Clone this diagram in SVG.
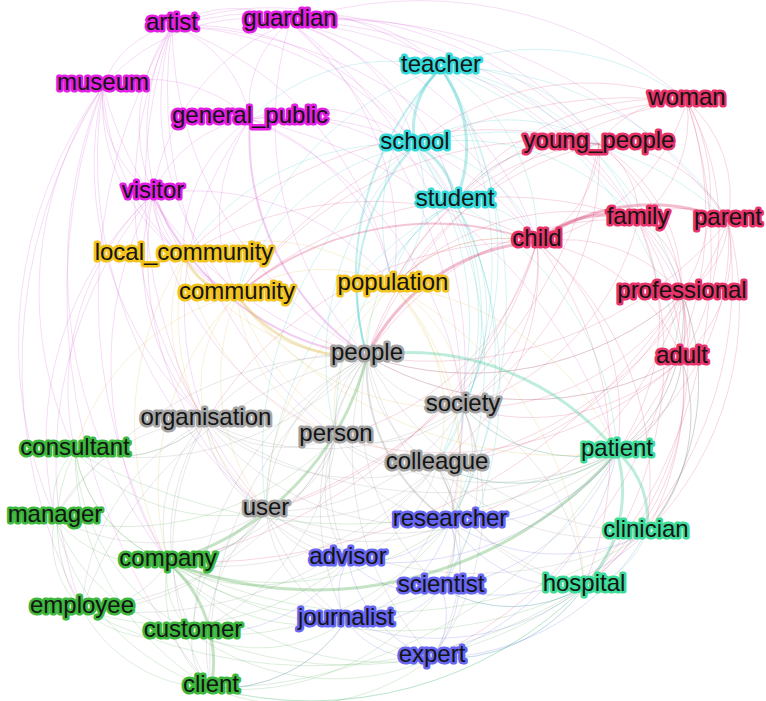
<svg xmlns="http://www.w3.org/2000/svg" width="766" height="701" viewBox="0 0 766 701">
<style>
  #connectors path { fill: none; stroke-width: 0.9; stroke-opacity: 0.22; }
  #connectors path.w { stroke-width: 3; stroke-opacity: 0.32; }
  #connectors path.w2 { stroke-width: 2; stroke-opacity: 0.28; }
  .m { stroke: #d24ad2; } .c { stroke: #2ec4c4; } .r { stroke: #d8366a; } .y { stroke: #d9b43a; }
  .g { stroke: #8c8c8c; } .gr { stroke: #4aa84a; } .b { stroke: #5a5ae0; } .t { stroke: #35c98f; }
  .node text { font-family: "Liberation Sans", Arial, Helvetica, sans-serif; font-size: 24px; fill: #141414;
               stroke-width: 5; stroke-linejoin: round; paint-order: stroke; text-anchor: middle; }
  .nm text { stroke: #e31fe3; } .nc text { stroke: #34dada; } .nr text { stroke: #e8336a; }
  .ny text { stroke: #f2c31b; } .ng text { stroke: #a4a4a4; } .ngr text { stroke: #3cb83c; }
  .nb text { stroke: #6666f2; } .nt text { stroke: #3ddc98; }
</style>
<rect width="766" height="701" fill="#ffffff"/>
<g id="connectors">
 <g class="m">
  <path d="M172 26A120 120 0 0 1 290 22"/><path d="M172 26A92 92 0 0 0 103 86"/><path d="M172 26A121 121 0 0 1 250 119"/>
  <path d="M172 26A170 170 0 0 0 153 194"/><path d="M172 26A230 230 0 0 0 184 256"/><path d="M172 26A277 277 0 0 0 237 295"/>
  <path d="M172 26A383 383 0 0 0 367 356"/><path d="M172 26A396 396 0 0 0 206 421"/><path d="M172 26A333 333 0 0 1 455 202"/>
  <path d="M172 26A272 272 0 0 1 441 68"/><path d="M172 26A270 270 0 0 1 415 145"/><path d="M172 26A424 424 0 0 1 537 242"/>
  <path d="M172 26A443 443 0 0 1 599 144"/><path d="M172 26A341 341 0 0 1 393 286"/><path d="M172 26A494 494 0 0 0 266 511"/>
  <path d="M172 26A536 536 0 0 0 168 562"/><path d="M172 26A442 442 0 0 0 336 437"/>
  <path d="M290 22A105 105 0 0 0 250 119"/><path d="M290 22A158 158 0 0 1 441 68"/><path d="M290 22A175 175 0 0 1 415 145"/>
  <path d="M290 22A244 244 0 0 1 455 202"/><path d="M290 22A330 330 0 0 1 537 242"/><path d="M290 22A332 332 0 0 1 599 144"/>
  <path d="M290 22A405 405 0 0 1 687 101"/><path d="M290 22A481 481 0 0 1 728 221"/><path d="M290 22A400 400 0 0 1 638 220"/>
  <path d="M290 22A343 343 0 0 0 367 356"/><path d="M290 22A283 283 0 0 1 393 286"/><path d="M290 22A422 422 0 0 1 463 407"/>
  <path d="M290 22A220 220 0 0 0 153 194"/><path d="M290 22A198 198 0 0 0 103 86"/><path d="M290 22A525 525 0 0 1 450 522"/>
  <path d="M290 22A477 477 0 0 1 682 294"/>
  <path d="M103 86A151 151 0 0 1 250 119"/><path d="M103 86A119 119 0 0 0 153 194"/><path d="M103 86A188 188 0 0 0 184 256"/>
  <path d="M103 86A248 248 0 0 0 237 295"/><path d="M103 86A378 378 0 0 0 367 356"/><path d="M103 86A350 350 0 0 0 206 421"/>
  <path d="M103 86A366 366 0 0 0 75 451"/><path d="M103 86A435 435 0 0 0 55 518"/><path d="M103 86A455 455 0 0 0 266 511"/>
  <path d="M103 86A480 480 0 0 0 168 562"/><path d="M103 86A523 523 0 0 0 82 609"/><path d="M103 86A612 612 0 0 0 211 688"/>
  <path d="M250 119A123 123 0 0 0 153 194"/><path d="M250 119A152 152 0 0 0 184 256"/><path d="M250 119A176 176 0 0 0 237 295"/>
  <path class="w2" d="M250 119A264 264 0 0 0 367 356"/><path d="M250 119A220 220 0 0 1 393 286"/><path d="M250 119A167 167 0 0 1 415 145"/>
  <path d="M250 119A312 312 0 0 1 537 242"/><path d="M250 119A358 358 0 0 1 463 407"/><path d="M250 119A495 495 0 0 1 617 452"/>
  <path d="M250 119A221 221 0 0 1 455 202"/><path d="M250 119A305 305 0 0 0 206 421"/>
  <path d="M153 194A70 70 0 0 0 184 256"/><path d="M153 194A131 131 0 0 0 237 295"/><path class="w2" d="M153 194A268 268 0 0 0 367 356"/>
  <path d="M153 194A233 233 0 0 0 206 421"/><path d="M153 194A304 304 0 0 0 336 437"/><path d="M153 194A336 336 0 0 0 266 511"/>
  <path d="M153 194A268 268 0 0 0 75 451"/><path d="M153 194A338 338 0 0 0 55 518"/><path d="M153 194A421 421 0 0 0 82 609"/>
  <path d="M153 194A368 368 0 0 0 168 562"/><path d="M153 194A257 257 0 0 1 393 286"/>
 </g>
 <g class="c">
  <path class="w" d="M441 68A81 81 0 0 0 415 145"/><path class="w" d="M441 68A135 135 0 0 1 455 202"/><path d="M441 68A199 199 0 0 1 537 242"/>
  <path d="M441 68A175 175 0 0 1 599 144"/><path class="w2" d="M441 68A297 297 0 0 0 367 356"/><path d="M441 68A223 223 0 0 0 393 286"/>
  <path d="M441 68A325 325 0 0 1 728 221"/><path d="M441 68A249 249 0 0 1 638 220"/><path d="M441 68A248 248 0 0 1 687 101"/>
  <path d="M441 68A330 330 0 0 1 682 294"/><path d="M441 68A397 397 0 0 1 437 465"/><path d="M441 68A454 454 0 0 1 450 522"/>
  <path d="M441 68A198 198 0 0 0 250 119"/><path d="M441 68A340 340 0 0 1 463 407"/><path d="M441 68A305 305 0 0 0 237 295"/>
  <path d="M441 68A378 378 0 0 1 682 359"/>
  <path class="w" d="M415 145A70 70 0 0 1 455 202"/><path d="M415 145A156 156 0 0 1 537 242"/><path class="w2" d="M415 145A216 216 0 0 0 367 356"/>
  <path d="M415 145A143 143 0 0 1 393 286"/><path d="M415 145A233 233 0 0 0 237 295"/><path d="M415 145A256 256 0 0 0 184 256"/>
  <path d="M415 145A184 184 0 0 1 599 144"/><path d="M415 145A235 235 0 0 1 638 220"/><path d="M415 145A322 322 0 0 1 728 221"/>
  <path d="M415 145A302 302 0 0 0 336 437"/><path d="M415 145A395 395 0 0 0 266 511"/><path d="M415 145A321 321 0 0 1 437 465"/>
  <path d="M415 145A266 266 0 0 1 463 407"/><path d="M415 145A379 379 0 0 1 450 522"/>
  <path d="M455 202A91 91 0 0 1 537 242"/><path d="M455 202A177 177 0 0 0 367 356"/><path d="M455 202A104 104 0 0 0 393 286"/>
  <path d="M455 202A155 155 0 0 1 599 144"/><path d="M455 202A320 320 0 0 1 450 522"/><path d="M455 202A264 264 0 0 1 437 465"/>
  <path d="M455 202A205 205 0 0 1 463 407"/><path d="M455 202A263 263 0 0 0 336 437"/><path d="M455 202A386 386 0 0 1 441 588"/>
  <path d="M455 202A298 298 0 0 1 617 452"/><path d="M455 202A362 362 0 0 0 266 511"/>
 </g>
 <g class="r">
  <path d="M687 101A98 98 0 0 0 599 144"/><path d="M687 101A206 206 0 0 1 537 242"/><path d="M687 101A129 129 0 0 1 638 220"/>
  <path d="M687 101A127 127 0 0 1 728 221"/><path d="M687 101A193 193 0 0 1 682 294"/><path d="M687 101A258 258 0 0 1 682 359"/>
  <path d="M687 101A409 409 0 0 0 367 356"/><path d="M687 101A347 347 0 0 0 393 286"/><path d="M687 101A253 253 0 0 0 455 202"/>
  <path d="M687 101A275 275 0 0 0 415 145"/><path d="M687 101A358 358 0 0 1 617 452"/><path d="M687 101A490 490 0 0 0 237 295"/>
  <path d="M687 101A497 497 0 0 1 584 587"/>
  <path d="M599 144A116 116 0 0 1 537 242"/><path d="M599 144A85 85 0 0 1 638 220"/><path d="M599 144A150 150 0 0 1 728 221"/>
  <path d="M599 144A171 171 0 0 1 682 294"/><path d="M599 144A230 230 0 0 1 682 359"/><path d="M599 144A314 314 0 0 0 367 356"/>
  <path d="M599 144A250 250 0 0 0 393 286"/><path d="M599 144A155 155 0 0 0 455 202"/><path d="M599 144A392 392 0 0 0 237 295"/>
  <path d="M599 144A430 430 0 0 0 184 256"/><path d="M599 144A296 296 0 0 1 463 407"/><path d="M599 144A496 496 0 0 1 266 511"/>
  <path class="w" d="M537 242A103 103 0 0 1 638 220"/><path class="w" d="M537 242A192 192 0 0 1 728 221"/><path d="M537 242A154 154 0 0 1 682 294"/>
  <path d="M537 242A186 186 0 0 1 682 359"/><path class="w" d="M537 242A205 205 0 0 0 367 356"/><path d="M537 242A151 151 0 0 0 393 286"/>
  <path class="w2" d="M537 242A305 305 0 0 0 237 295"/><path d="M537 242A353 353 0 0 0 184 256"/><path d="M537 242A181 181 0 0 1 463 407"/>
  <path d="M537 242A225 225 0 0 1 617 452"/><path d="M537 242A348 348 0 0 1 584 587"/><path d="M537 242A311 311 0 0 1 646 533"/>
  <path d="M537 242A280 280 0 0 1 336 437"/><path d="M537 242A244 244 0 0 1 437 465"/><path d="M537 242A382 382 0 0 1 266 511"/>
  <path d="M537 242A376 376 0 0 0 206 421"/><path d="M537 242A488 488 0 0 1 168 562"/>
  <path d="M638 220A90 90 0 0 1 728 221"/><path d="M638 220A86 86 0 0 1 682 294"/><path d="M638 220A146 146 0 0 1 682 359"/>
  <path d="M638 220A303 303 0 0 0 367 356"/><path d="M638 220A254 254 0 0 0 393 286"/><path d="M638 220A408 408 0 0 0 237 295"/>
  <path d="M638 220A233 233 0 0 1 617 452"/><path d="M638 220A256 256 0 0 1 463 407"/><path d="M638 220A371 371 0 0 1 584 587"/>
  <path d="M638 220A313 313 0 0 1 646 533"/>
  <path d="M728 221A86 86 0 0 1 682 294"/><path d="M728 221A145 145 0 0 1 682 359"/><path d="M728 221A385 385 0 0 1 367 356"/>
  <path d="M728 221A256 256 0 0 1 617 452"/><path d="M728 221A322 322 0 0 1 646 533"/><path d="M728 221A380 380 0 0 1 437 465"/>
  <path d="M728 221A393 393 0 0 1 584 587"/>
  <path d="M682 294A70 70 0 0 1 682 359"/><path d="M682 294A321 321 0 0 1 367 356"/><path d="M682 294A171 171 0 0 1 617 452"/>
  <path d="M682 294A242 242 0 0 1 646 533"/><path d="M682 294A309 309 0 0 1 584 587"/><path d="M682 294A246 246 0 0 1 463 407"/>
  <path d="M682 294A299 299 0 0 1 437 465"/><path d="M682 294A325 325 0 0 1 450 522"/><path d="M682 294A580 580 0 0 1 168 562"/>
  <path d="M682 294A441 441 0 0 1 432 658"/>
  <path d="M682 359A315 315 0 0 1 367 356"/><path d="M682 359A113 113 0 0 1 617 452"/><path d="M682 359A178 178 0 0 1 646 533"/>
  <path d="M682 359A248 248 0 0 1 584 587"/><path d="M682 359A224 224 0 0 1 463 407"/><path d="M682 359A355 355 0 0 1 336 437"/>
 </g>
 <g class="y">
  <path class="w" d="M184 256A66 66 0 0 0 237 295"/><path d="M184 256A209 209 0 0 0 367 356"/><path d="M184 256A211 211 0 0 1 393 286"/>
  <path d="M184 256A166 166 0 0 0 206 421"/><path d="M184 256A236 236 0 0 0 336 437"/><path d="M184 256A268 268 0 0 0 266 511"/>
  <path d="M184 256A306 306 0 0 0 168 562"/>
  <path class="w" d="M237 295A144 144 0 0 0 367 356"/><path d="M237 295A156 156 0 0 1 393 286"/><path d="M237 295A130 130 0 0 0 206 421"/>
  <path d="M237 295A173 173 0 0 0 336 437"/><path d="M237 295A218 218 0 0 0 266 511"/><path d="M237 295A276 276 0 0 0 168 562"/>
  <path d="M237 295A252 252 0 0 0 463 407"/><path d="M237 295A262 262 0 0 0 437 465"/><path d="M237 295A411 411 0 0 0 617 452"/>
  <path d="M237 295A225 225 0 0 0 75 451"/>
  <path d="M393 286A75 75 0 0 0 367 356"/><path d="M393 286A140 140 0 0 1 463 407"/><path d="M393 286A161 161 0 0 0 336 437"/>
  <path d="M393 286A279 279 0 0 1 617 452"/><path d="M393 286A356 356 0 0 1 584 587"/><path d="M393 286A243 243 0 0 1 450 522"/>
  <path d="M393 286A306 306 0 0 1 441 588"/><path d="M393 286A258 258 0 0 0 266 511"/><path d="M393 286A184 184 0 0 1 437 465"/>
  <path d="M393 286A151 151 0 0 1 537 242"/>
 </g>
 <g class="g">
  <path d="M367 356A174 174 0 0 0 206 421"/><path d="M367 356A109 109 0 0 0 463 407"/><path d="M367 356A87 87 0 0 0 336 437"/>
  <path d="M367 356A130 130 0 0 0 437 465"/><path d="M367 356A185 185 0 0 0 266 511"/><path class="w2" d="M367 356A186 186 0 0 0 450 522"/>
  <path d="M367 356A205 205 0 0 0 348 560"/><path d="M367 356A244 244 0 0 0 441 588"/><path d="M367 356A266 266 0 0 0 346 621"/>
  <path d="M367 356A309 309 0 0 0 432 658"/><path d="M367 356A327 327 0 0 0 193 633"/><path d="M367 356A367 367 0 0 0 211 688"/>
  <path d="M367 356A330 330 0 0 0 646 533"/><path d="M367 356A317 317 0 0 0 584 587"/><path d="M367 356A307 307 0 0 1 75 451"/>
  <path d="M367 356A352 352 0 0 0 55 518"/><path d="M367 356A381 381 0 0 0 82 609"/><path d="M367 356A315 315 0 0 0 682 359"/>
  <path d="M367 356A321 321 0 0 0 682 294"/>
  <path d="M206 421A257 257 0 0 0 463 407"/><path d="M206 421A131 131 0 0 0 336 437"/><path d="M206 421A235 235 0 0 0 437 465"/>
  <path d="M206 421A108 108 0 0 0 266 511"/><path d="M206 421A146 146 0 0 0 168 562"/><path d="M206 421A134 134 0 0 1 75 451"/>
  <path d="M206 421A180 180 0 0 0 55 518"/><path d="M206 421A225 225 0 0 0 82 609"/><path d="M206 421A212 212 0 0 0 193 633"/>
  <path d="M206 421A267 267 0 0 0 211 688"/><path d="M206 421A264 264 0 0 0 450 522"/><path d="M206 421A199 199 0 0 0 348 560"/>
  <path d="M206 421A412 412 0 0 0 617 452"/>
  <path d="M463 407A130 130 0 0 1 336 437"/><path d="M463 407A64 64 0 0 1 437 465"/><path d="M463 407A223 223 0 0 1 266 511"/>
  <path d="M463 407A116 116 0 0 1 450 522"/><path d="M463 407A182 182 0 0 1 441 588"/><path d="M463 407A253 253 0 0 1 432 658"/>
  <path d="M463 407A244 244 0 0 1 346 621"/><path d="M463 407A160 160 0 0 0 617 452"/><path d="M463 407A217 217 0 0 1 584 587"/>
  <path d="M336 437A105 105 0 0 0 437 465"/><path d="M336 437A102 102 0 0 1 266 511"/><path d="M336 437A142 142 0 0 0 450 522"/>
  <path d="M336 437A124 124 0 0 0 348 560"/><path d="M336 437A209 209 0 0 1 168 562"/><path d="M336 437A281 281 0 0 0 617 452"/>
  <path d="M336 437A307 307 0 0 1 82 609"/><path d="M336 437A243 243 0 0 1 193 633"/>
  <path d="M437 465A177 177 0 0 1 266 511"/><path d="M437 465A60 60 0 0 1 450 522"/><path d="M437 465A130 130 0 0 1 348 560"/>
  <path d="M437 465A123 123 0 0 1 441 588"/><path d="M437 465A193 193 0 0 1 432 658"/><path d="M437 465A180 180 0 0 0 617 452"/>
  <path d="M437 465A220 220 0 0 0 646 533"/><path d="M437 465A191 191 0 0 0 584 587"/><path d="M437 465A286 286 0 0 1 168 562"/>
  <path d="M437 465A383 383 0 0 1 82 609"/>
  <path d="M266 511A110 110 0 0 1 168 562"/><path d="M266 511A142 142 0 0 0 193 633"/><path d="M266 511A185 185 0 0 0 211 688"/>
  <path d="M266 511A184 184 0 0 0 450 522"/><path d="M266 511A96 96 0 0 0 348 560"/><path d="M266 511A136 136 0 0 0 346 621"/>
  <path d="M266 511A222 222 0 0 0 432 658"/><path d="M266 511A356 356 0 0 0 617 452"/><path d="M266 511A381 381 0 0 0 646 533"/>
  <path d="M266 511A211 211 0 0 1 55 518"/><path d="M266 511A208 208 0 0 1 82 609"/>
 </g>
 <g class="gr">
  <path d="M75 451A70 70 0 0 0 55 518"/><path d="M75 451A145 145 0 0 0 168 562"/><path d="M75 451A158 158 0 0 0 82 609"/>
  <path d="M75 451A217 217 0 0 0 193 633"/><path d="M75 451A273 273 0 0 0 211 688"/><path d="M75 451A200 200 0 0 0 266 511"/>
  <path d="M75 451A134 134 0 0 0 206 421"/><path d="M75 451A542 542 0 0 0 617 452"/>
  <path d="M55 518A121 121 0 0 0 168 562"/><path d="M55 518A95 95 0 0 0 82 609"/><path d="M55 518A180 180 0 0 0 193 633"/>
  <path d="M55 518A231 231 0 0 0 211 688"/><path d="M55 518A292 292 0 0 0 336 437"/>
  <path d="M168 562A98 98 0 0 1 82 609"/><path d="M168 562A75 75 0 0 0 193 633"/><path class="w" d="M168 562A133 133 0 0 1 211 688"/>
  <path d="M168 562A133 133 0 0 0 211 688"/><path class="w" d="M168 562A286 286 0 0 0 367 356"/><path d="M168 562A110 110 0 0 0 266 511"/>
  <path class="w" d="M168 562A400 400 0 0 0 617 452"/><path d="M168 562A285 285 0 0 0 450 522"/><path d="M168 562A180 180 0 0 0 348 560"/>
  <path d="M168 562A188 188 0 0 0 346 621"/><path d="M168 562A281 281 0 0 0 432 658"/><path d="M168 562A274 274 0 0 0 441 588"/>
  <path d="M168 562A417 417 0 0 0 584 587"/><path d="M168 562A479 479 0 0 0 646 533"/><path d="M168 562A145 145 0 0 1 75 451"/>
  <path d="M82 609A114 114 0 0 0 193 633"/><path d="M82 609A151 151 0 0 0 211 688"/><path d="M82 609A502 502 0 0 0 584 587"/>
  <path d="M82 609A270 270 0 0 0 348 560"/>
  <path d="M193 633A58 58 0 0 0 211 688"/><path d="M193 633A153 153 0 0 0 346 621"/><path d="M193 633A240 240 0 0 0 432 658"/>
  <path d="M193 633A394 394 0 0 0 584 587"/><path d="M193 633A280 280 0 0 0 450 522"/>
  <path d="M211 688A151 151 0 0 0 346 621"/><path d="M211 688A223 223 0 0 0 432 658"/><path d="M211 688A386 386 0 0 0 584 587"/>
  <path d="M211 688A470 470 0 0 0 617 452"/><path d="M211 688A251 251 0 0 0 441 588"/>
 </g>
 <g class="b">
  <path d="M450 522A109 109 0 0 1 348 560"/><path d="M450 522A70 70 0 0 1 441 588"/><path d="M450 522A144 144 0 0 1 346 621"/>
  <path d="M450 522A137 137 0 0 1 432 658"/><path d="M450 522A181 181 0 0 0 617 452"/><path d="M450 522A196 196 0 0 0 646 533"/>
  <path d="M450 522A149 149 0 0 0 584 587"/>
  <path d="M348 560A97 97 0 0 0 441 588"/><path d="M348 560A61 61 0 0 0 346 621"/><path d="M348 560A129 129 0 0 0 432 658"/>
  <path d="M348 560A171 171 0 0 1 193 633"/><path d="M348 560A290 290 0 0 0 617 452"/>
  <path d="M441 588A101 101 0 0 1 346 621"/><path d="M441 588A71 71 0 0 1 432 658"/><path d="M441 588A143 143 0 0 0 584 587"/>
  <path d="M441 588A212 212 0 0 0 646 533"/><path d="M441 588A222 222 0 0 0 617 452"/>
  <path d="M346 621A94 94 0 0 0 432 658"/><path d="M346 621A151 151 0 0 1 211 688"/><path d="M346 621A240 240 0 0 0 584 587"/>
  <path d="M432 658A168 168 0 0 0 584 587"/><path d="M432 658A248 248 0 0 0 646 533"/><path d="M432 658A277 277 0 0 0 617 452"/>
 </g>
 <g class="t">
  <path class="w" d="M617 452A86 86 0 0 1 646 533"/><path class="w" d="M617 452A139 139 0 0 1 584 587"/><path class="w" d="M617 452A268 268 0 0 0 367 356"/>
  <path d="M617 452A180 180 0 0 1 437 465"/><path d="M617 452A160 160 0 0 1 463 407"/><path d="M617 452A113 113 0 0 0 682 359"/>
  <path d="M617 452A171 171 0 0 0 682 294"/>
  <path d="M646 533A82 82 0 0 1 584 587"/><path d="M646 533A242 242 0 0 0 682 294"/><path d="M646 533A178 178 0 0 0 682 359"/>
  <path d="M584 587A168 168 0 0 1 432 658"/><path d="M584 587A143 143 0 0 1 441 588"/><path d="M584 587A386 386 0 0 1 211 688"/>
 </g>
</g>
<!-- labelled nodes -->
<g id="n-artist" class="node nm"><text x="172" y="30">artist</text></g>
<g id="n-guardian" class="node nm"><text x="290" y="26">guardian</text></g>
<g id="n-museum" class="node nm"><text x="103" y="90">museum</text></g>
<g id="n-general_public" class="node nm"><text x="250" y="123">general_public</text></g>
<g id="n-visitor" class="node nm"><text x="153" y="198">visitor</text></g>
<g id="n-teacher" class="node nc"><text x="441" y="72">teacher</text></g>
<g id="n-school" class="node nc"><text x="415" y="149">school</text></g>
<g id="n-student" class="node nc"><text x="455" y="206">student</text></g>
<g id="n-woman" class="node nr"><text x="687" y="105">woman</text></g>
<g id="n-young_people" class="node nr"><text x="599" y="148">young_people</text></g>
<g id="n-child" class="node nr"><text x="537" y="246">child</text></g>
<g id="n-family" class="node nr"><text x="638" y="224">family</text></g>
<g id="n-parent" class="node nr"><text x="728" y="225">parent</text></g>
<g id="n-professional" class="node nr"><text x="682" y="298">professional</text></g>
<g id="n-adult" class="node nr"><text x="682" y="363">adult</text></g>
<g id="n-local_community" class="node ny"><text x="184" y="260">local_community</text></g>
<g id="n-community" class="node ny"><text x="237" y="299">community</text></g>
<g id="n-population" class="node ny"><text x="393" y="290">population</text></g>
<g id="n-people" class="node ng"><text x="367" y="360">people</text></g>
<g id="n-organisation" class="node ng"><text x="206" y="425">organisation</text></g>
<g id="n-society" class="node ng"><text x="463" y="411">society</text></g>
<g id="n-person" class="node ng"><text x="336" y="441">person</text></g>
<g id="n-colleague" class="node ng"><text x="437" y="469">colleague</text></g>
<g id="n-user" class="node ng"><text x="266" y="515">user</text></g>
<g id="n-consultant" class="node ngr"><text x="75" y="455">consultant</text></g>
<g id="n-manager" class="node ngr"><text x="55" y="522">manager</text></g>
<g id="n-company" class="node ngr"><text x="168" y="566">company</text></g>
<g id="n-employee" class="node ngr"><text x="82" y="613">employee</text></g>
<g id="n-customer" class="node ngr"><text x="193" y="637">customer</text></g>
<g id="n-client" class="node ngr"><text x="211" y="692">client</text></g>
<g id="n-researcher" class="node nb"><text x="450" y="526">researcher</text></g>
<g id="n-advisor" class="node nb"><text x="348" y="564">advisor</text></g>
<g id="n-scientist" class="node nb"><text x="441" y="592">scientist</text></g>
<g id="n-journalist" class="node nb"><text x="346" y="625">journalist</text></g>
<g id="n-expert" class="node nb"><text x="432" y="662">expert</text></g>
<g id="n-patient" class="node nt"><text x="617" y="456">patient</text></g>
<g id="n-clinician" class="node nt"><text x="646" y="537">clinician</text></g>
<g id="n-hospital" class="node nt"><text x="584" y="591">hospital</text></g>
</svg>
